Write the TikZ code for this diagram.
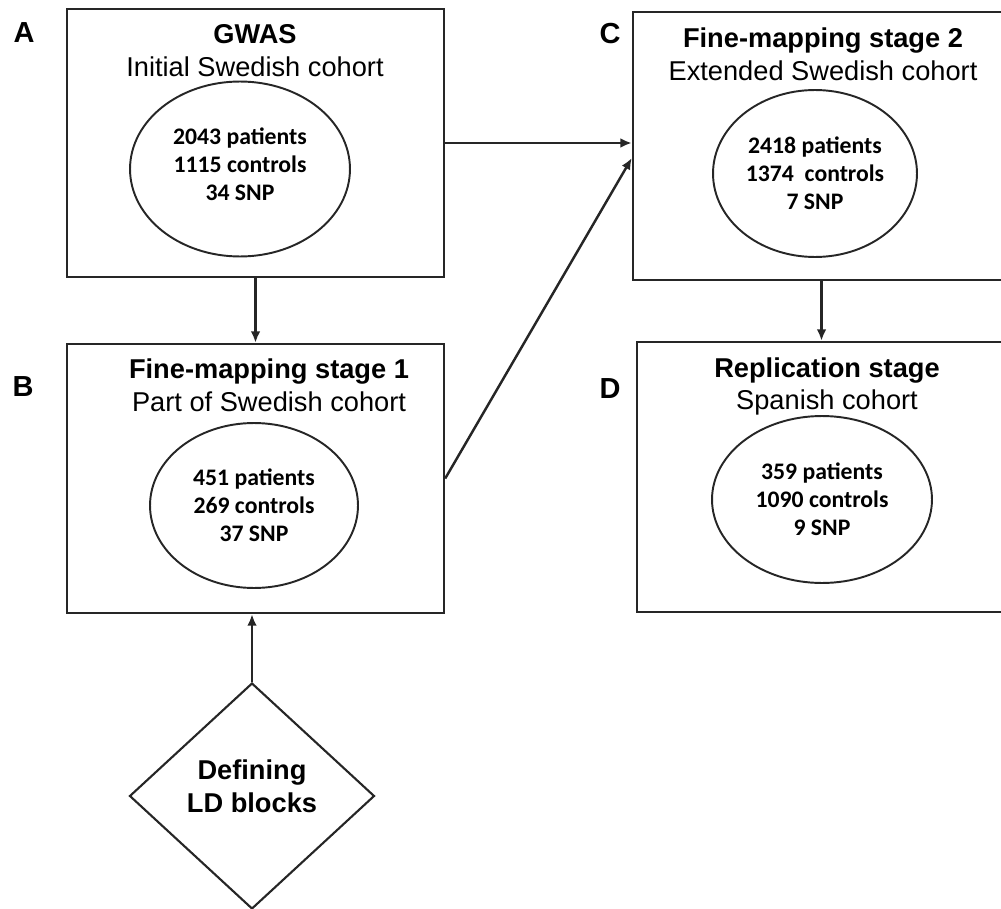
\documentclass[tikz,border=0pt]{standalone}
\usepackage{fontspec}
\setmainfont{Liberation Sans}
\newfontfamily\calfont{Carlito}
\usetikzlibrary{arrows.meta,positioning,shapes.geometric}
\tikzset{
      stagebox/.style={
        draw=black!85,
        line width=1.4pt,
        minimum width=7.54cm,
        minimum height=5.36cm,
        inner sep=0pt
      },
      stagetitle/.style={
        font=\fontsize{15.5}{18.7}\selectfont,
        align=center,
        inner sep=0pt
      },
      cohort/.style={
        ellipse,
        draw=black!85,
        line width=1.1pt,
        font=\calfont\bfseries\fontsize{13.5}{16}\selectfont,
        align=center,
        inner sep=0pt
      },
      panel/.style={
        font=\bfseries\fontsize{16.5}{18}\selectfont,
        inner sep=0pt
      },
      ldbox/.style={
        diamond,
        draw=black!85,
        line width=1.2pt,
        minimum width=4.9cm,
        minimum height=4.52cm,
        inner sep=0pt,
        align=center,
        text depth=11pt,
        font=\bfseries\fontsize{15.5}{18.7}\selectfont
      },
      flow/.style={
        -{Latex[length=6.5pt,width=5.5pt]},
        line width=1.4pt,
        color=black!85
      }
    }

\begin{document}
\begin{tikzpicture}[x=0.02cm,y=-0.02cm]
    \clip (0,0) rectangle (1001,909);
    % stage boxes
    \node[stagebox] (mA) at (255.5,143) {};
    \node[stagebox, minimum height=5.38cm] (mB) at (255.5,478.5) {};
    \node[stagebox] (mC) at (821.5,146) {};
    \node[stagebox, minimum height=5.4cm] (mD) at (825.5,477) {};
    % titles
    \node[stagetitle] (tA) at (255,50.5) {\textbf{GWAS}\\Initial Swedish cohort};
    \node[stagetitle] (tB) at (269,385) {\textbf{Fine-mapping stage 1}\\Part of Swedish cohort};
    \node[stagetitle] (tC) at (823,54) {\textbf{Fine-mapping stage 2}\\Extended Swedish cohort};
    \node[stagetitle] (tD) at (827,386.5) {\textbf{Replication stage}\\Spanish cohort};
    % cohorts
    \node[cohort, minimum width=4.4cm, minimum height=3.5cm, text depth=5.6pt] (eA) at (240,169) {2043 patients\\1115 controls\\34 SNP};
    \node[cohort, minimum width=4.16cm, minimum height=3.3cm] (eB) at (254,505.5) {451 patients\\269 controls\\37 SNP};
    \node[cohort, minimum width=4.08cm, minimum height=3.34cm] (eC) at (815,173.5) {2418 patients\\1374~ controls\\7 SNP};
    \node[cohort, minimum width=4.4cm, minimum height=3.34cm] (eD) at (822,499.5) {359 patients\\1090 controls\\9 SNP};
    % panel letters
    \node[panel] (pA) at (24,33) {A};
    \node[panel] (pB) at (23,387) {B};
    \node[panel] (pC) at (610,34) {C};
    \node[panel] (pD) at (610,389) {D};
    % LD blocks
    \node[ldbox] (ld) at (252,796) {Defining\\LD blocks};
    % connectors
    \draw[flow] (mA.south) -- (mB.north);
    \draw[flow] (mA.east) -- (mA.east -| mC.west);
    \draw[flow] (mB.east) -- ([yshift=-0.24cm]mC.west);
    \draw[flow] (mC.south) -- (mC.south |- mD.north);
    \draw[flow] (ld.north) -- (ld.north |- mB.south);
\end{tikzpicture}
\end{document}
